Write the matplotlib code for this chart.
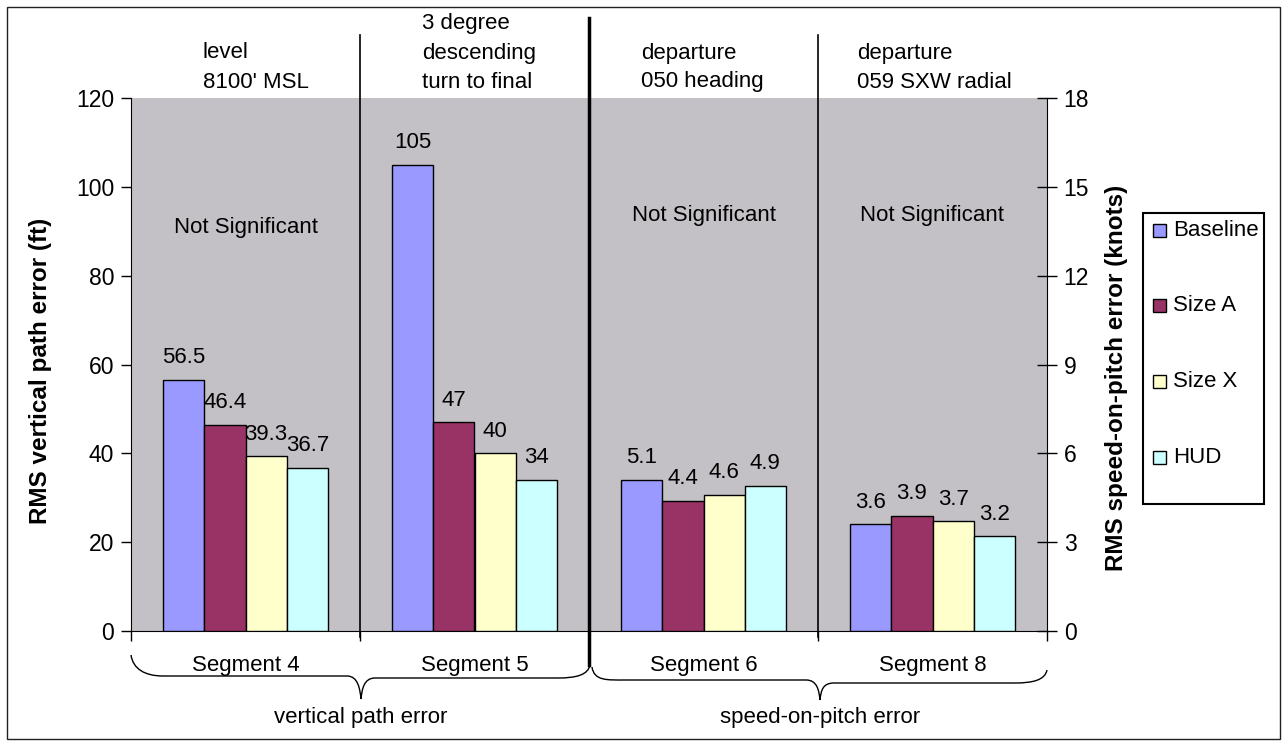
import numpy as np
import matplotlib
matplotlib.use("Agg")
import matplotlib.pyplot as plt
import matplotlib.transforms as mtransforms
from matplotlib.patches import Rectangle, PathPatch
from matplotlib.path import Path

plt.rcParams['font.family'] = ['Liberation Sans', 'DejaVu Sans']
plt.rcParams['font.size'] = 16

# --- data ---
segments = ["Segment 4", "Segment 5", "Segment 6", "Segment 8"]
conditions = ["Baseline", "Size A", "Size X", "HUD"]
colors = ["#9999FF", "#993366", "#FFFFCC", "#CCFFFF"]

# RMS vertical path error (ft), segments 4 and 5
seg4_vpe = [56.5, 46.4, 39.3, 36.7]
seg5_vpe = [105, 47, 40, 34]
# RMS speed-on-pitch error (knots), segments 6 and 8
seg6_spe = [5.1, 4.4, 4.6, 4.9]
seg8_spe = [3.6, 3.9, 3.7, 3.2]

left_ticks = [0, 20, 40, 60, 80, 100, 120]
right_ticks = [0, 3, 6, 9, 12, 15, 18]

notes = [["level", "8100' MSL"],
         ["3 degree", "descending", "turn to final"],
         ["departure", "050 heading"],
         ["departure", "059 SXW radial"]]
significance = ["Not Significant", "", "Not Significant", "Not Significant"]
groups = ["vertical path error", "speed-on-pitch error"]

# --- layout helpers (pixel coords of the 1283x741 picture) ---
W, H = 1283, 741
fig = plt.figure(figsize=(W / 100, H / 100), dpi=100)
px = mtransforms.Affine2D().scale(1 / W, -1 / H).translate(0, 1) + fig.transFigure

X0, X1, Y0, Y1 = 131, 1047, 631, 98   # plot area
ax = fig.add_axes([X0 / W, 1 - Y0 / H, (X1 - X0) / W, (Y0 - Y1) / H])
ax.set_facecolor('#C3C1C5')
ax2 = ax.twinx()
ax2.patch.set_visible(False)


def ya(py):
    return (Y0 - py) / (Y0 - Y1)


x = np.arange(len(segments))
width = 0.18
left_sets = [seg4_vpe, seg5_vpe]
right_sets = [seg6_spe, seg8_spe]

for j, cond in enumerate(conditions):
    off = (j - 1.5) * width
    for i, vals in enumerate(left_sets):
        ax.bar(x[i] + off, vals[j], width, color=colors[j], edgecolor='black', linewidth=1, zorder=3)
        ax.annotate(f"{vals[j]:g}", (x[i] + off, vals[j]), xytext=(0, 16),
                    textcoords='offset points', ha='center', va='center')
    for i, vals in enumerate(right_sets):
        ax2.bar(x[i + 2] + off, vals[j], width, color=colors[j], edgecolor='black', linewidth=1, zorder=3)
        ax2.annotate(f"{vals[j]:g}", (x[i + 2] + off, vals[j]), xytext=(0, 16),
                     textcoords='offset points', ha='center', va='center')

ax.set_xlim(-0.5, 3.5)
ax.set_ylim(0, 120)
ax2.set_ylim(0, 18)
ax.set_yticks(left_ticks)
ax2.set_yticks(right_ticks)
ax.set_xticks([-0.5, 0.5, 1.5, 2.5, 3.5])
ax.set_xticklabels([])
ax.tick_params(axis='x', direction='out', length=7, width=1)
ax.tick_params(axis='y', direction='out', length=7, width=1, pad=5, labelsize=16.5)
ax2.tick_params(axis='y', direction='inout', length=14, width=1, pad=5, labelsize=16.5)

for a in (ax, ax2):
    a.spines['top'].set_visible(False)
ax.spines['right'].set_visible(False)
ax2.spines['left'].set_visible(False)
ax2.spines['bottom'].set_visible(False)

# segment dividers
trans = ax.get_xaxis_transform()
for xd in (0.5, 2.5):
    ax.plot([xd, xd], [ya(35), ya(637)], color='black', lw=1.2, transform=trans, clip_on=False, zorder=5)
ax.plot([1.5, 1.5], [ya(18), ya(665)], color='black', lw=2.5, transform=trans, clip_on=False, zorder=5)

# "Not Significant" notes and segment labels
for i, s in enumerate(significance):
    if s:
        ty = 228 if i == 0 else 215
        ax.text(x[i], ya(ty), s, transform=trans, ha='center', va='center', zorder=6)
    ax.text(x[i], ya(665), segments[i], transform=trans, ha='center', va='center')

# condition notes above the plot
note_x = [203, 422, 641, 857]
for i, lines in enumerate(notes):
    n = len(lines)
    for k, line in enumerate(lines):
        fig.text(note_x[i], 82 - (n - 1 - k) * 29, line, transform=px, ha='left', va='center')

# braces under the axis
def brace(x0, y0, xa, yf, xt, yt, xb, yf2, x1, y1):
    verts = [(x0, y0), (x0 + 2, y0 + 14), (xa - 18, yf), (xa, yf),
             (xt - 30, yf), (xt - 30, yf), (xt - 14, yf),
             (xt - 3, yf), (xt - 1, yt - 10), (xt, yt),
             (xt + 1, yt - 10), (xt + 3, yf2), (xt + 14, yf2),
             (xb, yf2),
             (xb + 18, yf2), (x1 - 2, y1 + 10), (x1, y1)]
    codes = [Path.MOVETO, Path.CURVE4, Path.CURVE4, Path.CURVE4,
             Path.LINETO, Path.LINETO, Path.LINETO,
             Path.CURVE4, Path.CURVE4, Path.CURVE4,
             Path.CURVE4, Path.CURVE4, Path.CURVE4,
             Path.LINETO,
             Path.CURVE4, Path.CURVE4, Path.CURVE4]
    fig.patches.append(PathPatch(Path(verts, codes), transform=px, facecolor='none',
                                 edgecolor='black', lw=1))

brace(131, 655, 163, 676, 361, 699, 558, 678, 590, 665)
brace(592, 667, 625, 680, 820, 700, 1015, 683, 1047, 670)
fig.text(361, 717, groups[0], transform=px, ha='center', va='center')
fig.text(820, 717, groups[1], transform=px, ha='center', va='center')

# axis titles
fig.text(41, 371, "RMS vertical path error (ft)", transform=px, rotation=90,
         ha='center', va='center', fontweight='bold', fontsize=17.5)
fig.text(1116, 378, "RMS speed-on-pitch error (knots)", transform=px, rotation=90,
         ha='center', va='center', fontweight='bold', fontsize=17.5)

# legend box
fig.patches.append(Rectangle((1143, 213), 121, 291, transform=px, facecolor='white',
                             edgecolor='black', lw=1.5))
for j, cond in enumerate(conditions):
    cy = 230 + j * 75.7
    fig.patches.append(Rectangle((1153, cy - 6.5), 13, 13, transform=px, facecolor=colors[j],
                                 edgecolor='black', lw=1))
    fig.text(1173, cy, cond, transform=px, ha='left', va='center')

# outer chart border
fig.patches.append(Rectangle((7, 7), 1273, 732, transform=px, facecolor='none',
                             edgecolor='#222222', lw=1))

fig.savefig("out.png", dpi=100)
